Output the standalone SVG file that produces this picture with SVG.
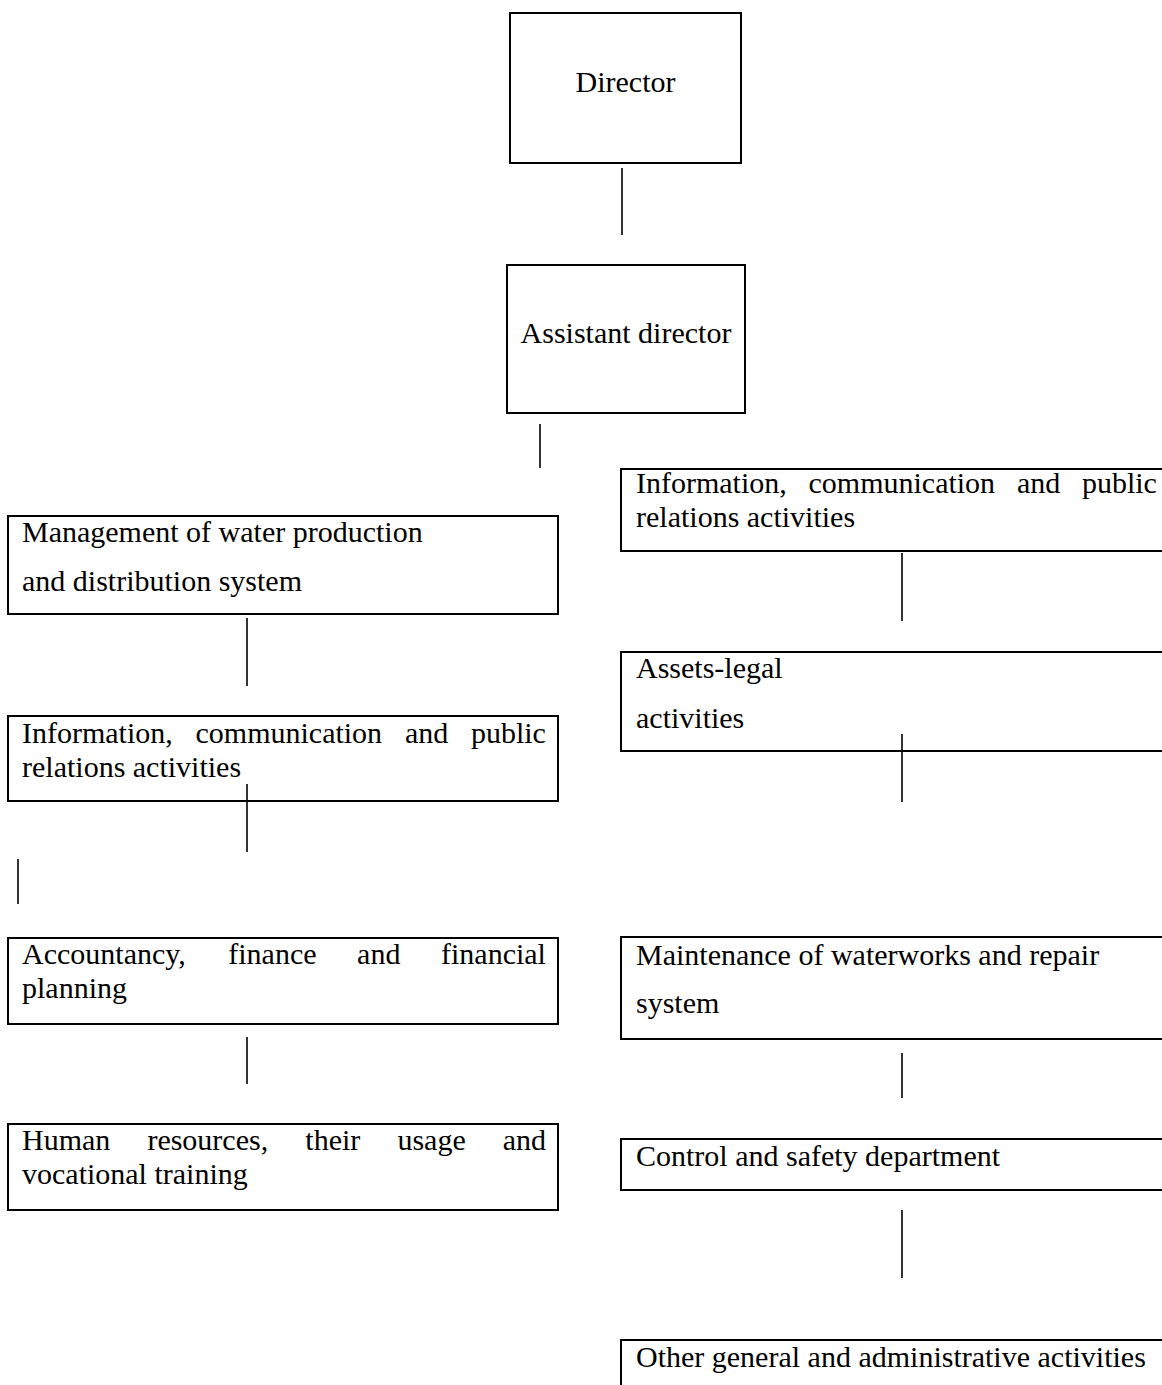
<svg xmlns="http://www.w3.org/2000/svg" width="1162" height="1385" viewBox="0 0 1162 1385">
<style>
.box{fill:#fff;stroke:#000;stroke-width:2}
.ln{stroke:#000;stroke-width:1.6;fill:none}
text{font-family:"Liberation Serif","Times New Roman",serif;font-size:30px;fill:#000}
</style>
<rect width="1162" height="1385" fill="#fff"/>
<g id="director"><rect class="box" x="510" y="13" width="231" height="150"/><text x="625.5" y="92" text-anchor="middle">Director</text></g>
<g id="assistant"><rect class="box" x="507" y="265" width="238" height="148"/><text x="626" y="343" text-anchor="middle">Assistant director</text></g>
<g id="r1"><rect class="box" x="621" y="469" width="560" height="82"/>
<text y="493"><tspan x="636">Information,</tspan><tspan x="808.5">communication</tspan><tspan x="1016.9">and</tspan><tspan x="1081.9">public</tspan></text>
<text x="636" y="527">relations activities</text></g>
<g id="r2"><rect class="box" x="621" y="652" width="560" height="99"/>
<text x="636" y="678">Assets-legal</text><text x="636" y="728">activities</text></g>
<g id="l1"><rect class="box" x="8" y="516" width="550" height="98"/>
<text x="22" y="542">Management of water production</text><text x="22" y="591">and distribution system</text></g>
<g id="l2"><rect class="box" x="8" y="716" width="550" height="85"/>
<text y="743"><tspan x="22">Information,</tspan><tspan x="195.5">communication</tspan><tspan x="404.9">and</tspan><tspan x="470.9">public</tspan></text>
<text x="22" y="777">relations activities</text></g>
<g id="l3"><rect class="box" x="8" y="938" width="550" height="86"/>
<text y="964"><tspan x="22">Accountancy,</tspan><tspan x="228.3">finance</tspan><tspan x="357.1">and</tspan><tspan x="441">financial</tspan></text>
<text x="22" y="998">planning</text></g>
<g id="l4"><rect class="box" x="8" y="1124" width="550" height="86"/>
<text y="1150"><tspan x="22">Human</tspan><tspan x="147.4">resources,</tspan><tspan x="305.3">their</tspan><tspan x="397.4">usage</tspan><tspan x="502.8">and</tspan></text>
<text x="22" y="1184">vocational training</text></g>
<g id="r3"><rect class="box" x="621" y="937" width="560" height="102"/>
<text x="636" y="965">Maintenance of waterworks and repair</text><text x="636" y="1013">system</text></g>
<g id="r4"><rect class="box" x="621" y="1139" width="560" height="51"/>
<text x="636" y="1166">Control and safety department</text></g>
<g id="r5"><rect class="box" x="621" y="1340" width="560" height="80"/>
<text x="636" y="1367">Other general and administrative activities</text></g>
<g id="connectors">
<line class="ln" x1="622" y1="168" x2="622" y2="235"/>
<line class="ln" x1="540" y1="424" x2="540" y2="468"/>
<line class="ln" x1="902" y1="553" x2="902" y2="621"/>
<line class="ln" x1="247" y1="618" x2="247" y2="686"/>
<line class="ln" x1="902" y1="734" x2="902" y2="802"/>
<line class="ln" x1="247" y1="784" x2="247" y2="852"/>
<line class="ln" x1="18" y1="859" x2="18" y2="904"/>
<line class="ln" x1="247" y1="1037" x2="247" y2="1084"/>
<line class="ln" x1="902" y1="1053" x2="902" y2="1098"/>
<line class="ln" x1="902" y1="1210" x2="902" y2="1278"/>
</g>
</svg>
